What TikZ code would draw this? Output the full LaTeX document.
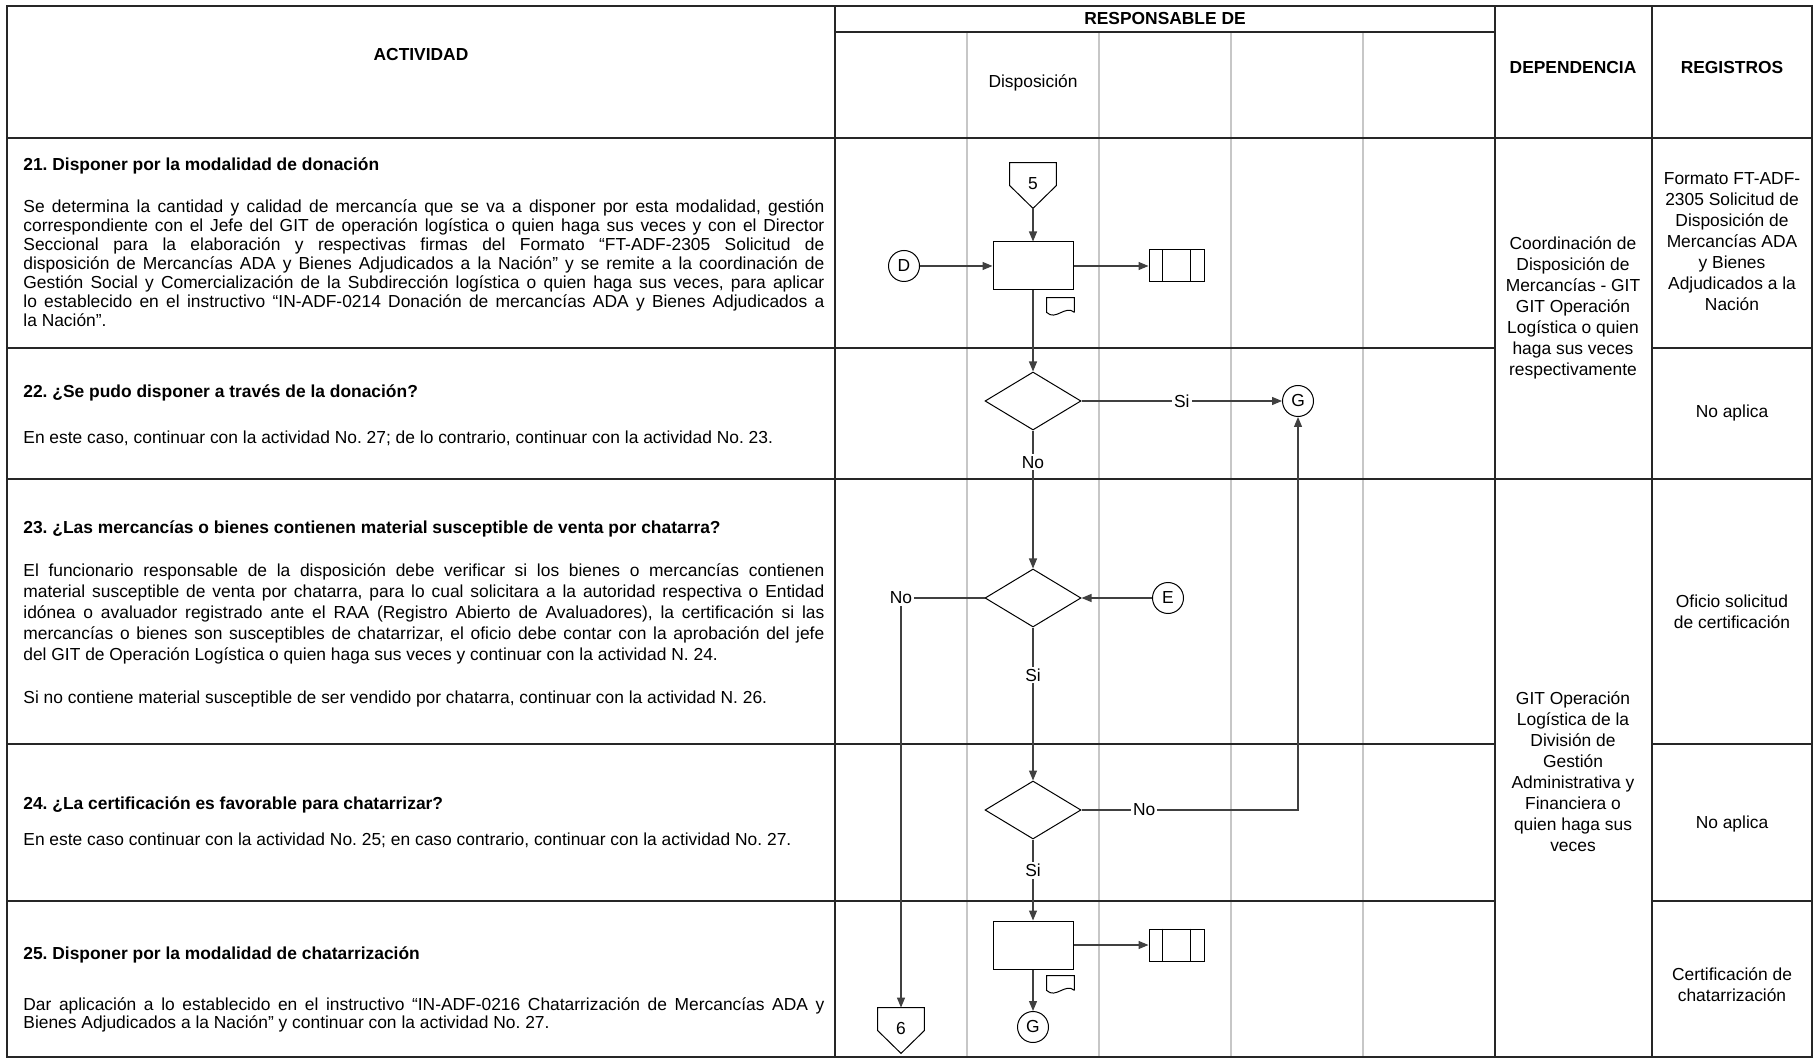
\documentclass[tikz,border=0pt]{standalone}
\usepackage{fontspec}
\setmainfont{Liberation Sans}
\usetikzlibrary{shapes.geometric}
\usetikzlibrary{arrows.meta}

\begin{document}
\frenchspacing
\begin{tikzpicture}[x=0.5pt,y=-0.5pt,
  grid/.style={draw=black!85,line width=0.7pt},
  lane/.style={draw=black!22,line width=0.7pt},
  hdr/.style={inner sep=0pt,font=\fontsize{8.7}{10.5}\selectfont\bfseries},
  cell/.style={inner sep=0pt,align=center,font=\fontsize{8.7}{10.5}\selectfont},
  acttitle/.style={anchor=base west,inner sep=0pt,font=\fontsize{8.7}{9.45}\selectfont\bfseries},
  actbody/.style={anchor=base west,inner sep=0pt,text width=400.5pt,align=justify,font=\fontsize{8.7}{#1}\selectfont},
  actbody/.default=9.45pt,
  symline/.style={draw=black,line width=0.5pt},
  proc/.style={symline,minimum width=40pt,minimum height=24pt,inner sep=0pt},
  decision/.style={symline,diamond,minimum width=48pt,minimum height=29pt,inner sep=0pt},
  conn/.style={symline,circle,minimum size=15.5pt,inner sep=0pt,font=\fontsize{8.7}{10}\selectfont},
  offpage/.style={minimum width=23pt,minimum height=22.5pt,inner sep=0pt,font=\fontsize{8.7}{10}\selectfont},
  regbox/.style={symline,minimum width=27.5pt,minimum height=16pt,inner sep=0pt},
  docbox/.style={minimum width=13.5pt,minimum height=7pt,inner sep=0pt},
  flow/.style={draw=black!75,line width=0.6pt,-{Triangle[length=5pt,width=4pt]}},
  lbl/.style={fill=white,inner sep=1pt,font=\fontsize{8.7}{10}\selectfont}
]
\useasboundingbox (0,0) rectangle (1814,1058);

% table
\foreach \x in {967,1099,1231,1363}
  \draw[lane] (\x,32) -- (\x,1057);
\draw[grid] (7,6) rectangle (1812,1057);
\draw[grid] (835,6) -- (835,1057) (1495,6) -- (1495,1057) (1652,6) -- (1652,1057);
\draw[grid] (835,32) -- (1495,32);
\draw[grid] (7,138) -- (1812,138) (7,479) -- (1812,479);
\foreach \y in {348,744,901}
  \draw[grid] (7,\y) -- (1495,\y) (1652,\y) -- (1812,\y);

% headers
\node[hdr] (hAct) at (421,55) {ACTIVIDAD};
\node[hdr] (hResp) at (1165,19) {RESPONSABLE DE};
\node[hdr] (hDep) at (1573,68) {DEPENDENCIA};
\node[hdr] (hReg) at (1732,68) {REGISTROS};
\node[cell] (hLane) at (1033,83) {Disposición};

% activities
\node[acttitle] (t21) at (23,171) {21. Disponer por la modalidad de donación};
\node[actbody] (b21) at (23,213) {Se determina la cantidad y calidad de mercancía que se va a disponer por esta modalidad, gestión\linebreak
correspondiente con el Jefe del GIT de operación logística o quien haga sus veces y con el Director\linebreak
Seccional para la elaboración y respectivas firmas del Formato “FT-ADF-2305 Solicitud de\linebreak
disposición de Mercancías ADA y Bienes Adjudicados a la Nación” y se remite a la coordinación de\linebreak
Gestión Social y Comercialización de la Subdirección logística o quien haga sus veces, para aplicar\linebreak
lo establecido en el instructivo “IN-ADF-0214 Donación de mercancías ADA y Bienes Adjudicados a\linebreak
la Nación”.};
\node[acttitle] (t22) at (23,398) {22. ¿Se pudo disponer a través de la donación?};
\node[actbody] (b22) at (23,444) {En este caso, continuar con la actividad No. 27; de lo contrario, continuar con la actividad No. 23.};
\node[acttitle] (t23) at (23,533) {23. ¿Las mercancías o bienes contienen material susceptible de venta por chatarra?};
\node[actbody=10.6pt] (b23) at (23,576) {El funcionario responsable de la disposición debe verificar si los bienes o mercancías contienen\linebreak
material susceptible de venta por chatarra, para lo cual solicitara a la autoridad respectiva o Entidad\linebreak
idónea o avaluador registrado ante el RAA (Registro Abierto de Avaluadores), la certificación si las\linebreak
mercancías o bienes son susceptibles de chatarrizar, el oficio debe contar con la aprobación del jefe\linebreak
del GIT de Operación Logística o quien haga sus veces y continuar con la actividad N. 24.};
\node[actbody] (b23b) at (23,703) {Si no contiene material susceptible de ser vendido por chatarra, continuar con la actividad N. 26.};
\node[acttitle] (t24) at (23,809) {24. ¿La certificación es favorable para chatarrizar?};
\node[actbody] (b24) at (23,845) {En este caso continuar con la actividad No. 25; en caso contrario, continuar con la actividad No. 27.};
\node[acttitle] (t25) at (23,959) {25. Disponer por la modalidad de chatarrización};
\node[actbody=9.15pt] (b25) at (23,1010) {Dar aplicación a lo establecido en el instructivo “IN-ADF-0216 Chatarrización de Mercancías ADA y\linebreak
Bienes Adjudicados a la Nación” y continuar con la actividad No. 27.};

% dependencia / registros
\node[cell] (dep1) at (1573,308) {Coordinación de\\Disposición de\\Mercancías - GIT\\GIT Operación\\Logística o quien\\haga sus veces\\respectivamente};
\node[cell] (dep2) at (1573,772) {GIT Operación\\Logística de la\\División de\\Gestión\\Administrativa y\\Financiera o\\quien haga sus\\veces};
\node[cell] (reg21) at (1732,242) {Formato FT-ADF-\\2305 Solicitud de\\Disposición de\\Mercancías ADA\\y Bienes\\Adjudicados a la\\Nación};
\node[cell] (reg22) at (1732,413) {No aplica};
\node[cell] (reg23) at (1732,612) {Oficio solicitud\\de certificación};
\node[cell] (reg24) at (1732,824) {No aplica};
\node[cell] (reg25) at (1732,985) {Certificación de\\chatarrización};

% flow
\node[offpage] (c5) at (1033,185.5) {\raisebox{2pt}{5}};
\draw[symline] (c5.north west) -- (c5.north east) -- (c5.east) -- (c5.south) -- (c5.west) -- cycle;
\node[proc] (p21) at (1033,266) {};
\node[conn] (cD) at (904,266) {D};
\node[regbox] (r21) at (1176.5,266) {};
\draw[symline] ([xshift=7pt]r21.north west) -- ([xshift=7pt]r21.south west)
  ([xshift=-7pt]r21.north east) -- ([xshift=-7pt]r21.south east);
\node[docbox] (d21) at (1060.5,305) {};
\draw[symline] (d21.south east) -- (d21.north east) -- (d21.north west) -- (d21.south west)
  .. controls +(9,9) and +(-9,-8) .. (d21.south east);
\draw[flow] (c5) -- (p21);
\draw[flow] (cD) -- (p21);
\draw[flow] (p21) -- (r21);

\node[decision] (q22) at (1033,401) {};
\node[conn] (cG1) at (1298,401) {G};
\draw[flow] (p21) -- (q22);
\draw[flow] (q22) -- node[lbl] {Si} (cG1);

\node[decision] (q23) at (1033,598) {};
\node[conn] (cE) at (1168,598) {E};
\node[offpage] (c6) at (901,1030.5) {\raisebox{2pt}{6}};
\draw[symline] (c6.north west) -- (c6.north east) -- (c6.east) -- (c6.south) -- (c6.west) -- cycle;
\draw[flow] (q22) -- node[lbl,pos=0.23] {No} (q23);
\draw[flow] (cE) -- (q23);
\draw[flow] (q23) -| node[lbl,pos=0.5] {No} (c6);

\node[decision] (q24) at (1033,810) {};
\draw[flow] (q23) -- node[lbl,pos=0.31] {Si} (q24);
\draw[flow] (q24) -| node[lbl,pos=0.145] {No} (cG1);

\node[proc] (p25) at (1033,945) {};
\node[regbox] (r25) at (1176.5,945) {};
\draw[symline] ([xshift=7pt]r25.north west) -- ([xshift=7pt]r25.south west)
  ([xshift=-7pt]r25.north east) -- ([xshift=-7pt]r25.south east);
\node[docbox] (d25) at (1060.5,983) {};
\draw[symline] (d25.south east) -- (d25.north east) -- (d25.north west) -- (d25.south west)
  .. controls +(9,9) and +(-9,-8) .. (d25.south east);
\node[conn] (cG2) at (1033,1027) {G};
\draw[flow] (q24) -- node[lbl,pos=0.38] {Si} (p25);
\draw[flow] (p25) -- (r25);
\draw[flow] (p25) -- (cG2);
\end{tikzpicture}
\end{document}
